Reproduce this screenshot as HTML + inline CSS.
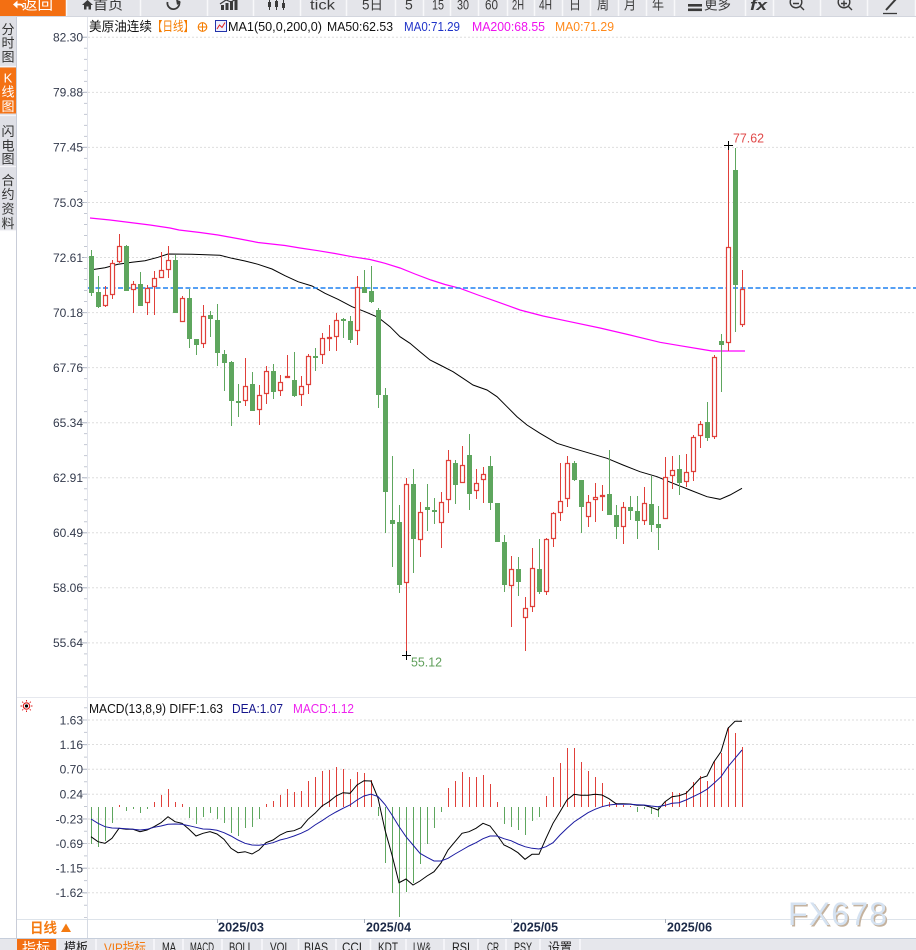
<!DOCTYPE html>
<html><head><meta charset="utf-8">
<style>
html,body{margin:0;padding:0;background:#fff;}
body{width:916px;height:950px;overflow:hidden;position:relative;}
svg{display:block;position:absolute;left:0;top:0;}
text{font-family:"Liberation Sans","Noto Sans CJK SC",sans-serif;}
</style></head>
<body>
<svg width="916" height="950" viewBox="0 0 916 950" xmlns="http://www.w3.org/2000/svg">
<!-- ===== top toolbar ===== -->
<rect x="0" y="0" width="916" height="16" fill="#e4e5ea"/>
<rect x="0" y="0" width="66" height="16" fill="#f36f12"/>
<path d="M66.5 0V16M140.5 0V16M207.5 0V16M253.5 0V16M300.5 0V16M346.5 0V16M395.5 0V16M423.5 0V16M450.5 0V16M478.5 0V16M507.5 0V16M534.5 0V16M562.5 0V16M590.5 0V16M618.5 0V16M646.5 0V16M674.5 0V16M745.5 0V16M773.5 0V16M820.5 0V16M867.5 0V16M915.5 0V16" stroke="#f8f8fa" stroke-width="1.5"/>
<line x1="0" y1="16.5" x2="916" y2="16.5" stroke="#d3d6de" stroke-width="1"/>
<!-- back arrow -->
<path d="M13 4.5 L17.5 0.5 L17.5 8.5 Z" fill="#fff"/>
<path d="M17 4.5 H20 Q23 4.5 23 7.5" stroke="#fff" stroke-width="1.8" fill="none"/>
<g font-size="14" fill="#3a3a3a">
<text x="22" y="9.5" fill="#fff" textLength="31" lengthAdjust="spacingAndGlyphs">返回</text>
<text x="93" y="9.5" textLength="30" lengthAdjust="spacingAndGlyphs">首页</text>
<text x="310" y="9.5" textLength="25" lengthAdjust="spacingAndGlyphs">tick</text>
<text x="362" y="9.5" textLength="21" lengthAdjust="spacingAndGlyphs">5日</text>
<text x="405" y="9.5">5</text>
<text x="432" y="9.5" textLength="12" lengthAdjust="spacingAndGlyphs">15</text>
<text x="457" y="9.5" textLength="12" lengthAdjust="spacingAndGlyphs">30</text>
<text x="485" y="9.5" textLength="13" lengthAdjust="spacingAndGlyphs">60</text>
<text x="512" y="9.5" textLength="12" lengthAdjust="spacingAndGlyphs">2H</text>
<text x="539" y="9.5" textLength="13" lengthAdjust="spacingAndGlyphs">4H</text>
<text x="569" y="9.5" textLength="12" lengthAdjust="spacingAndGlyphs">日</text>
<text x="597" y="9.5" textLength="12" lengthAdjust="spacingAndGlyphs">周</text>
<text x="624" y="9.5" textLength="12" lengthAdjust="spacingAndGlyphs">月</text>
<text x="652" y="9.5" textLength="12" lengthAdjust="spacingAndGlyphs">年</text>
<text x="704" y="9.5" textLength="27" lengthAdjust="spacingAndGlyphs">更多</text>
<text x="750" y="10" font-size="15" font-weight="bold" font-style="italic" textLength="17" lengthAdjust="spacingAndGlyphs">fx</text>
</g>
<!-- home icon -->
<path d="M82 5 L87.5 0 L93 5 Z" fill="#3a3a3a"/><rect x="84" y="4" width="7" height="5.5" fill="#3a3a3a"/><rect x="86.5" y="6.5" width="2" height="3" fill="#e4e5ea"/>
<!-- refresh -->
<path d="M167.5 2 A6 6 0 1 0 179 1" stroke="#3a3a3a" stroke-width="1.8" fill="none"/>
<path d="M176 -1 L181 2 L177 5 Z" fill="#3a3a3a"/>
<!-- bar chart icon -->
<g fill="#3a3a3a"><rect x="221" y="5" width="3" height="5"/><rect x="225.5" y="3" width="3" height="7"/><rect x="230" y="1" width="3" height="9"/><rect x="234.5" y="0" width="3" height="10"/></g>
<path d="M220 4 L226 0 L231 2 L238 -2" stroke="#3a3a3a" stroke-width="1.2" fill="none"/>
<!-- candle icon -->
<g stroke="#3a3a3a" stroke-width="1"><path d="M269.5 0V10M276.5 0V10M283.5 0V10"/></g>
<g fill="#3a3a3a"><rect x="268" y="2" width="3" height="5"/><rect x="275" y="1" width="3" height="6"/><rect x="282" y="3" width="3" height="5"/></g>
<!-- more icon -->
<rect x="688" y="4" width="14" height="2.6" fill="#3a3a3a"/><rect x="688" y="8.5" width="14" height="2.6" fill="#3a3a3a"/>
<!-- zoom out / in -->
<circle cx="796" cy="2" r="5.8" stroke="#3a3a3a" stroke-width="1.4" fill="none"/>
<path d="M793 3.5H799M800.5 6.5L804 10" stroke="#3a3a3a" stroke-width="1.4"/>
<circle cx="844" cy="2" r="5.8" stroke="#3a3a3a" stroke-width="1.4" fill="none"/>
<path d="M841 3.5H847M844 0.5V6.5M848.5 6.5L852 10" stroke="#3a3a3a" stroke-width="1.4"/>
<!-- pen -->
<path d="M886 10 L896 -1" stroke="#3a3a3a" stroke-width="2"/>
<path d="M883 13.5H897" stroke="#3a3a3a" stroke-width="1.3"/>

<!-- ===== left tab column ===== -->
<rect x="0" y="17" width="16" height="213" fill="#dfe0e6"/>
<rect x="0" y="67.5" width="16" height="46" fill="#f47214"/>
<path d="M0 66.5H16M0 115.5H16M0 166.5H16M0 230.5H16" stroke="#f4f4f7" stroke-width="1.2"/>
<line x1="16.5" y1="17" x2="16.5" y2="938" stroke="#c9cdd8" stroke-width="1"/>
<g font-size="13" fill="#333" text-anchor="middle">
<text x="8" y="34">分</text><text x="8" y="47.5">时</text><text x="8" y="61.5">图</text>
<text x="8" y="82.5" fill="#fff" font-family="Liberation Serif, serif">K</text><text x="8" y="96.5" fill="#fff">线</text><text x="8" y="111" fill="#fff">图</text>
<text x="8" y="136">闪</text><text x="8" y="150.5">电</text><text x="8" y="163.5">图</text>
<text x="8" y="185">合</text><text x="8" y="199">约</text><text x="8" y="213.5">资</text><text x="8" y="228">料</text>
</g>

<!-- ===== axis ===== -->
<line x1="87.5" y1="17" x2="87.5" y2="919" stroke="#e2e4eb" stroke-width="1"/>
<line x1="17" y1="697.5" x2="916" y2="697.5" stroke="#e6e8ee" stroke-width="1"/>
<!-- grid -->
<path d="M88 37.3H916M88 92.4H916M88 147.4H916M88 202.5H916M88 257.5H916M88 312.6H916M88 367.6H916M88 422.7H916M88 477.7H916M88 532.8H916M88 587.8H916M88 642.9H916M88 720H916M88 744.5H916M88 769.3H916M88 794.2H916M88 819H916M88 843.5H916M88 868.2H916M88 892.8H916" stroke="#dedede" stroke-width="1" stroke-dasharray="2 2"/>
<!-- ticks -->
<path d="M82 37.3H87M82 92.4H87M82 147.4H87M82 202.5H87M82 257.5H87M82 312.6H87M82 367.6H87M82 422.7H87M82 477.7H87M82 532.8H87M82 587.8H87M82 642.9H87M82 720H87M82 744.5H87M82 769.3H87M82 794.2H87M82 819H87M82 843.5H87M82 868.2H87M82 892.8H87" stroke="#a9afbd" stroke-width="1"/>
<line x1="85.5" y1="36.8" x2="85.5" y2="697" stroke="#c2c7d2" stroke-width="3" stroke-dasharray="1 10.01"/>
<line x1="85.5" y1="707.2" x2="85.5" y2="918" stroke="#c2c7d2" stroke-width="3" stroke-dasharray="1 11.35"/>
<g font-size="12" fill="#333a4c" text-anchor="end">
<text x="83" y="41.6">82.30</text><text x="83" y="96.7">79.88</text><text x="83" y="151.7">77.45</text><text x="83" y="206.8">75.03</text>
<text x="83" y="261.8">72.61</text><text x="83" y="316.9">70.18</text><text x="83" y="371.9">67.76</text><text x="83" y="427">65.34</text>
<text x="83" y="482">62.91</text><text x="83" y="537.1">60.49</text><text x="83" y="592.1">58.06</text><text x="83" y="647.2">55.64</text>
<text x="83" y="724.3">1.63</text><text x="83" y="748.8">1.16</text><text x="83" y="773.6">0.70</text><text x="83" y="798.5">0.24</text>
<text x="83" y="823.3">-0.23</text><text x="83" y="847.8">-0.69</text><text x="83" y="872.5">-1.15</text><text x="83" y="897.1">-1.62</text>
</g>

<!-- ===== main title ===== -->
<g font-size="13">
<text x="89" y="31" fill="#111" textLength="63" lengthAdjust="spacingAndGlyphs">美原油连续</text>
<text x="152" y="31" fill="#f57c00" textLength="42" lengthAdjust="spacingAndGlyphs">【日线】</text>
<text x="228" y="31" fill="#111" textLength="94" lengthAdjust="spacingAndGlyphs">MA1(50,0,200,0)</text>
<text x="327" y="31" fill="#111" textLength="66" lengthAdjust="spacingAndGlyphs">MA50:62.53</text>
<text x="404" y="31" fill="#1f33c8" textLength="56" lengthAdjust="spacingAndGlyphs">MA0:71.29</text>
<text x="472" y="31" fill="#ee11ee" textLength="73" lengthAdjust="spacingAndGlyphs">MA200:68.55</text>
<text x="555" y="31" fill="#ff8a1c" textLength="59" lengthAdjust="spacingAndGlyphs">MA0:71.29</text>
</g>
<circle cx="202.5" cy="27" r="4.3" stroke="#f57c00" stroke-width="1.1" fill="none"/>
<path d="M198 27H207M202.5 22.5V31.5" stroke="#f57c00" stroke-width="1"/>
<rect x="215.5" y="20.5" width="11" height="11" fill="#eef0ff" stroke="#2233aa" stroke-width="1"/>
<path d="M217 29 L219.5 25 L222 27.5 L225 22.5" stroke="#e02020" stroke-width="1" fill="none"/>

<!-- ===== MA lines ===== -->
<polyline fill="none" stroke="#ff00ff" stroke-width="1.2" points="90,218 110,220 130,222.5 150,225 170,228 179,230 200,232.5 218,235 240,239 258,242.5 285,245.5 300,248 318,250.7 335,253.5 352,256.7 370,259.5 385,263.3 400,268 415,274 431,280 445,284.5 460,288.3 478,295 497,301.7 520,310 543,316 570,321.7 600,328 630,335 660,342.3 680,345.7 700,349 712,351 745,351"/>
<polyline fill="none" stroke="#000" stroke-width="1" points="90,270 105,267.7 118,264.3 132,262.3 145,260.7 158,257.3 168,254 192,254.3 220,255.3 232,258.3 245,261 258,264.3 272,269 285,275.7 298,281.7 312,286 325,293.3 338,299.3 352,306.7 365,311.7 378,317.3 390,326.7 400,336.7 410,343.3 420,351.7 430,360 440,365 453,371.7 463,378.3 473,385 487,390 497,396.7 507,406.7 517,416.7 527,425 540,433.3 557,443.3 573,448.3 590,453.3 607,458.3 623,465 640,471.7 657,476.7 673,483.3 690,490 707,496.7 720,499.3 730,495 742,488.3"/>
<line x1="88" y1="288" x2="916" y2="288" stroke="#1e80f0" stroke-width="1.4" stroke-dasharray="5 2.5"/>

<!-- ===== candles ===== -->
<path stroke="#5ea65e" stroke-width="1" fill="none" d="M91.5 250V296M98.5 276V308M126.5 245V291M140.5 272V306M175.5 255V313M189.5 289V348M196.5 339V355M210.5 311V337M217.5 304V366M224.5 350V391M231.5 361V426M238.5 384V417M252.5 372V411M273.5 364V399M294.5 352V397M315.5 348V371M343.5 318V338M350.5 316V343M364.5 270V293M371.5 266V303M378.5 308V408M385.5 388V533M392.5 456V567M399.5 505V593M413.5 469V573M427.5 484V531M434.5 498V524M455.5 460V504M469.5 434V510M490.5 456V510M497.5 503V542M504.5 535V592M518.5 557V596M539.5 539V594M574.5 461V481M581.5 480V533M609.5 450V515M616.5 505V539M630.5 496V520M637.5 496V539M651.5 476V532M658.5 506V550M679.5 455V495M707.5 402V441M721.5 334V392M735.5 148V332"/>
<path fill="#5ea65e" d="M89 256h5V293h-5zM96 292h5V307h-5zM124 246h5V291h-5zM138 284h5V306h-5zM173 260h5V313h-5zM187 298h5V339h-5zM194 339h5V345h-5zM208 315h5V319h-5zM215 320h5V353h-5zM222 354h5V363h-5zM229 362h5V401h-5zM236 401h5V403h-5zM250 384h5V411h-5zM271 371h5V392h-5zM292 380h5V396h-5zM313 356h5V358h-5zM341 319h5V321h-5zM348 321h5V340h-5zM362 287h5V293h-5zM369 291h5V302h-5zM376 310h5V395h-5zM383 395h5V492h-5zM390 520h5V524h-5zM397 522h5V585h-5zM411 484h5V539h-5zM425 507h5V510h-5zM432 510h5V512h-5zM453 463h5V485h-5zM467 455h5V494h-5zM488 466h5V503h-5zM495 503h5V542h-5zM502 542h5V585h-5zM516 569h5V582h-5zM537 569h5V592h-5zM572 463h5V480h-5zM579 480h5V507h-5zM607 494h5V515h-5zM614 515h5V527h-5zM628 507h5V511h-5zM635 511h5V521h-5zM649 504h5V525h-5zM656 524h5V528h-5zM677 469h5V483h-5zM705 422h5V438h-5zM719 341h5V345h-5zM733 170h5V285h-5z"/>
<path stroke="#e0403a" stroke-width="1" fill="none" d="M105.5 286V307M112.5 260V299M119.5 234V263M133.5 281V313M147.5 285V315M154.5 271V315M161.5 252V278M168.5 246V278M182.5 296V322M203.5 305V348M245.5 358V406M259.5 385V425M266.5 366V404M280.5 375V396M287.5 355V378M301.5 376V406M308.5 354V394M322.5 333V364M329.5 325V351M336.5 313V351M357.5 276V345M406.5 478V655M420.5 502V557M441.5 492V548M448.5 450V513M462.5 446V483M476.5 469V499M483.5 467V503M511.5 556V627M525.5 597V651M532.5 548V612M546.5 538V595M553.5 512V547M560.5 463V521M567.5 456V507M588.5 495V527M595.5 483V522M602.5 485V511M623.5 502V544M644.5 487V525M665.5 457V519M672.5 456V489M686.5 454V487M693.5 435V481M700.5 421V448M714.5 355V439M728.5 145V351M742.5 270V327"/>
<path stroke="#e0403a" stroke-width="1.2" fill="#fff" d="M103.5 295.5h4V305.5h-4zM110.5 263.5h4V294.5h-4zM117.5 246.5h4V261.5h-4zM131.5 284.5h4V289.5h-4zM145.5 288.5h4V302.5h-4zM152.5 278.5h4V286.5h-4zM159.5 270.5h4V277.5h-4zM166.5 260.5h4V269.5h-4zM180.5 298.5h4V321.5h-4zM201.5 316.5h4V343.5h-4zM243.5 386.5h4V400.5h-4zM257.5 395.5h4V409.5h-4zM264.5 371.5h4V393.5h-4zM278.5 382.5h4V390.5h-4zM285.5 376.5h4V377.5h-4zM299.5 386.5h4V394.5h-4zM306.5 356.5h4V384.5h-4zM320.5 338.5h4V354.5h-4zM327.5 337.5h4V338.5h-4zM334.5 320.5h4V336.5h-4zM355.5 287.5h4V330.5h-4zM404.5 484.5h4V582.5h-4zM418.5 512.5h4V539.5h-4zM439.5 502.5h4V522.5h-4zM446.5 460.5h4V499.5h-4zM460.5 465.5h4V482.5h-4zM474.5 483.5h4V490.5h-4zM481.5 474.5h4V479.5h-4zM509.5 569.5h4V585.5h-4zM523.5 608.5h4V617.5h-4zM530.5 568.5h4V606.5h-4zM544.5 539.5h4V591.5h-4zM551.5 513.5h4V538.5h-4zM558.5 501.5h4V512.5h-4zM565.5 463.5h4V498.5h-4zM586.5 502.5h4V516.5h-4zM593.5 497.5h4V499.5h-4zM600.5 495.5h4V496.5h-4zM621.5 507.5h4V526.5h-4zM642.5 503.5h4V520.5h-4zM663.5 477.5h4V518.5h-4zM670.5 470.5h4V475.5h-4zM684.5 472.5h4V481.5h-4zM691.5 437.5h4V471.5h-4zM698.5 424.5h4V435.5h-4zM712.5 357.5h4V436.5h-4zM726.5 247.5h4V342.5h-4zM740.5 289.5h4V324.5h-4z"/>
<!-- hi / lo markers -->
<path d="M724 145.5H733M728.5 141V150M402 655.5H411M406.5 651V660" stroke="#000" stroke-width="1"/>
<text x="733" y="142.5" font-size="13" fill="#e04848" textLength="31" lengthAdjust="spacingAndGlyphs">77.62</text>
<text x="411" y="666.5" font-size="13" fill="#5f9f5a" textLength="31" lengthAdjust="spacingAndGlyphs">55.12</text>

<!-- ===== MACD panel ===== -->
<g transform="translate(26.5,706)">
<circle r="3.2" fill="#fff" stroke="#e02020" stroke-width="1.2"/>
<circle r="1.6" fill="#000"/>
<path d="M0 -6V-4.5M0 4.5V6M-6 0H-4.5M4.5 0H6M-4.3 -4.3L-3.3 -3.3M3.3 3.3L4.3 4.3M-4.3 4.3L-3.3 3.3M3.3 -3.3L4.3 -4.3" stroke="#e02020" stroke-width="1"/>
</g>
<g font-size="13">
<text x="89" y="712.8" fill="#111" textLength="134" lengthAdjust="spacingAndGlyphs">MACD(13,8,9) DIFF:1.63</text>
<text x="232" y="712.8" fill="#15158c" textLength="51" lengthAdjust="spacingAndGlyphs">DEA:1.07</text>
<text x="293" y="712.8" fill="#ee22ee" textLength="61" lengthAdjust="spacingAndGlyphs">MACD:1.12</text>
</g>
<path stroke="#5ea65e" stroke-width="1" d="M91.5 807V844M98.5 807V847M105.5 807V841M112.5 807V823M126.5 807V811M133.5 807V809M140.5 807V813M147.5 807V809M189.5 807V818M196.5 807V824M203.5 807V817M210.5 807V813M217.5 807V819M224.5 807V823M231.5 807V833M238.5 807V836M245.5 807V828M252.5 807V827M259.5 807V819M378.5 807V816M385.5 807V863M392.5 807V893M399.5 807V917M406.5 807V892M413.5 807V883M420.5 807V864M427.5 807V844M434.5 807V828M441.5 807V812M504.5 807V824M511.5 807V827M518.5 807V830M525.5 807V835M532.5 807V821M539.5 807V817M637.5 807V812M644.5 807V809M651.5 807V814M658.5 807V817"/>
<path stroke="#e0403a" stroke-width="1" d="M119.5 807V805M154.5 807V802M161.5 807V795M168.5 807V789M175.5 807V802M182.5 807V804M266.5 807V804M273.5 807V801M280.5 807V795M287.5 807V789M294.5 807V792M301.5 807V791M308.5 807V781M315.5 807V777M322.5 807V771M329.5 807V770M336.5 807V767M343.5 807V769M350.5 807V779M357.5 807V772M364.5 807V773M371.5 807V780M448.5 807V788M455.5 807V781M462.5 807V772M469.5 807V777M476.5 807V777M483.5 807V775M490.5 807V784M497.5 807V802M546.5 807V796M553.5 807V777M560.5 807V763M567.5 807V748M574.5 807V748M581.5 807V762M588.5 807V771M595.5 807V777M602.5 807V783M609.5 807V802M616.5 807V803M623.5 807V805M630.5 807V806M665.5 807V802M672.5 807V792M679.5 807V793M686.5 807V791M693.5 807V782M700.5 807V776M707.5 807V781M714.5 807V761M721.5 807V753M728.5 807V727M735.5 807V733M742.5 807V747"/>
<polyline fill="none" stroke="#000" stroke-width="1" points="91,836.7 98,841.7 105,843.3 112,838.3 119,828.3 126,829.3 133,829.3 140,831.7 147,830 154,826.7 161,822.7 168,816.7 175,821.7 182,823.3 189,829.3 196,836 203,833.3 210,831.7 217,834 224,839.3 231,848.3 238,852.7 245,851.7 252,854 259,850 266,842.7 273,840 280,835 287,831.7 294,830.7 301,827.7 308,819.3 315,813.3 322,806 329,801.7 336,796 343,792.7 350,793.3 357,785 364,780.7 371,781 378,798 385,830 392,855 399,882.7 406,879 413,885 420,881 427,876 434,871.7 441,863 448,850 455,841.7 462,833.3 469,831.7 476,828.3 483,823.3 490,826 497,835 504,845 511,848.3 518,852.7 525,859.3 532,854.3 539,854.3 546,838.3 553,823.3 560,811.7 567,800 574,794.3 581,795.3 588,795.3 595,794.3 602,795 609,798.7 616,803.7 623,803.7 630,804 637,805.3 644,805.3 651,807.3 658,810 665,801.7 672,796.7 679,795.7 686,793.3 693,786 700,778.3 707,776 714,761.7 721,751.7 728,728.3 735,721.3 742,721.3"/>
<polyline fill="none" stroke="#1a1aa0" stroke-width="1" points="91,819 98,823.3 105,826.7 112,828 119,828.3 126,828.7 133,829.3 140,830 147,829.3 154,827.3 161,826 168,824.3 175,824 182,824.3 189,825.7 196,827.3 203,829 210,829.3 217,830.3 224,832.7 231,836 238,840 245,843.3 252,845 259,845.3 266,844.3 273,842.7 280,840 287,838.3 294,836 301,833.3 308,830 315,825 322,820.7 329,816 336,812 343,808.3 350,805 357,800 364,796 371,794.2 378,796.5 385,804.5 392,815 399,826.5 406,836.7 413,845 420,853.3 427,857.3 434,861 441,861 448,858.3 455,854 462,850 469,846 476,842.7 483,838.7 490,836 497,836 504,838.7 511,840.7 518,844 525,846.7 532,848.3 539,849 546,846.7 553,842.7 560,835 567,828.3 574,822 581,817.3 588,812.7 595,809.3 602,806.7 609,805 616,804.3 623,804.3 630,804.3 637,804.7 644,805 651,806 658,806.7 665,805.3 672,803.3 679,802.7 686,800 693,796.7 700,793.3 707,789.3 714,783.3 721,776.7 728,766.7 735,758.3 742,750"/>

<!-- ===== x axis row ===== -->
<line x1="17" y1="919.5" x2="916" y2="919.5" stroke="#dde3ea" stroke-width="1"/>
<line x1="0" y1="938.5" x2="916" y2="938.5" stroke="#c6cedb" stroke-width="1"/>
<line x1="87.5" y1="919" x2="87.5" y2="938" stroke="#d5dae3" stroke-width="1"/>
<path d="M217.5 919V923M364.5 919V923M511.5 919V923M665.5 919V923" stroke="#aab0bc" stroke-width="1"/>
<g font-size="13" font-weight="bold" fill="#1c2a48">
<text x="218" y="931.5" textLength="46" lengthAdjust="spacingAndGlyphs">2025/03</text>
<text x="366" y="931.5" textLength="45" lengthAdjust="spacingAndGlyphs">2025/04</text>
<text x="513" y="931.5" textLength="45" lengthAdjust="spacingAndGlyphs">2025/05</text>
<text x="667" y="931.5" textLength="45" lengthAdjust="spacingAndGlyphs">2025/06</text>
</g>
<text x="30" y="933" font-size="14" font-weight="bold" fill="#f47a10" textLength="27" lengthAdjust="spacingAndGlyphs">日线</text>
<path d="M61 932 L66 923.5 L71 932 Z" fill="#f47a10"/>
<!-- watermark -->
<text x="789.5" y="926.5" font-size="32" fill="#c4b29e" letter-spacing="1.2">FX678</text>
<text x="788" y="925" font-size="32" fill="#d5e2f1" letter-spacing="1.2">FX678</text>

<!-- ===== bottom toolbar ===== -->
<rect x="0" y="939" width="916" height="11" fill="#e6e7ec"/>
<rect x="17" y="939" width="40" height="11" fill="#f36f12"/>
<path d="M57 939V950M96 939V950M154 939V950M183 939V950M222 939V950M262 939V950M298.5 939V950M336 939V950M370.5 939V950M406 939V950M444 939V950M478 939V950M506 939V950M540 939V950M580 939V950" stroke="#f9f9fb" stroke-width="1.5"/>
<g font-size="14" fill="#222">
<text x="22" y="953" fill="#fff" textLength="28" lengthAdjust="spacingAndGlyphs">指标</text>
<text x="64" y="953" textLength="24" lengthAdjust="spacingAndGlyphs">模板</text>
<text x="104" y="953" fill="#f47a10" textLength="42" lengthAdjust="spacingAndGlyphs">VIP指标</text>
<text x="548" y="953" textLength="24" lengthAdjust="spacingAndGlyphs">设置</text>
</g>
<g font-size="13" fill="#222" font-family="Liberation Mono, monospace">
<text x="162" y="951.5" textLength="14" lengthAdjust="spacingAndGlyphs">MA</text>
<text x="190" y="951.5" textLength="24" lengthAdjust="spacingAndGlyphs">MACD</text>
<text x="229" y="951.5" textLength="24" lengthAdjust="spacingAndGlyphs">BOLL</text>
<text x="270" y="951.5" textLength="20" lengthAdjust="spacingAndGlyphs">VOL</text>
<text x="304" y="951.5" textLength="24" lengthAdjust="spacingAndGlyphs">BIAS</text>
<text x="342" y="951.5" textLength="20" lengthAdjust="spacingAndGlyphs">CCI</text>
<text x="378" y="951.5" textLength="20" lengthAdjust="spacingAndGlyphs">KDT</text>
<text x="413" y="951.5" textLength="18" lengthAdjust="spacingAndGlyphs">LW&amp;</text>
<text x="452" y="951.5" textLength="18" lengthAdjust="spacingAndGlyphs">RSI</text>
<text x="487" y="951.5" textLength="12" lengthAdjust="spacingAndGlyphs">CR</text>
<text x="514" y="951.5" textLength="18" lengthAdjust="spacingAndGlyphs">PSY</text>
</g>
</svg>
</body></html>
